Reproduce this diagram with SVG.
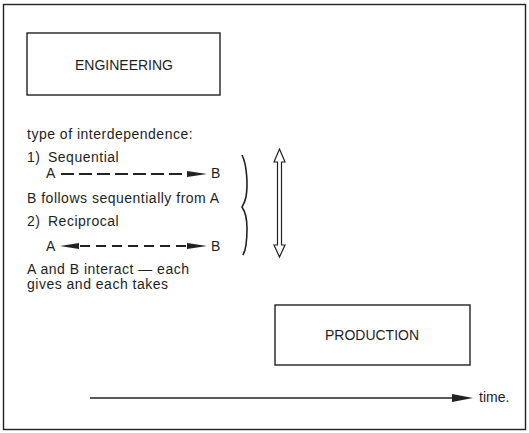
<svg xmlns="http://www.w3.org/2000/svg" width="529" height="433" viewBox="0 0 529 433">
<style>
text{font-family:"Liberation Sans",Arial,sans-serif;font-size:14px;fill:#1e1e1e}
.body{letter-spacing:0.5px}
.box{fill:none;stroke:#222;stroke-width:1.4}
.dash{stroke:#222;stroke-width:2.2;fill:none}
.head{fill:#222}
</style>
<rect x="3.5" y="4.5" width="522" height="425" fill="#fff" stroke="#222" stroke-width="1.4"/>
<g id="engineering">
<rect class="box" x="27" y="33" width="193" height="62"/>
<text x="124" y="70" text-anchor="middle">ENGINEERING</text>
</g>
<g id="production">
<rect class="box" x="275" y="305" width="195" height="60"/>
<text x="372" y="340" text-anchor="middle">PRODUCTION</text>
</g>
<g id="legend">
<text class="body" x="27" y="139">type of interdependence:</text>
<text class="body" x="27" y="162">1)</text>
<text class="body" x="48" y="162">Sequential</text>
<text class="body" x="46" y="178">A</text>
<text class="body" x="211" y="178">B</text>
<text class="body" x="27" y="203">B follows sequentially from A</text>
<text class="body" x="27" y="226">2)</text>
<text class="body" x="48" y="226">Reciprocal</text>
<text class="body" x="46" y="251">A</text>
<text class="body" x="211" y="251">B</text>
<text class="body" x="27" y="274">A and B interact — each</text>
<text class="body" x="27" y="289">gives and each takes</text>
</g>
<g id="brace">
<path d="M242,155 C247,165 248,185 246,197 C245,202 243,205 242,207 C244,210 247,216 247,228 C247,242 246,250 243,255" fill="none" stroke="#222" stroke-width="1.6"/>
</g>
<g id="mutual-arrow">
<polygon points="279.5,149 285,162 281.5,162 281.5,245 285,245 279.5,257 274,245 277.5,245 277.5,162 274,162" fill="#fff" stroke="#222" stroke-width="1.2"/>
</g>
<g id="connectors">
<line class="dash" x1="61" y1="174" x2="188" y2="174" stroke-dasharray="13 5"/>
<polygon class="head" points="187,171 207,174 187,177"/>
<line class="dash" x1="80" y1="246" x2="188" y2="246" stroke-dasharray="10 6"/>
<polygon class="head" points="60,246 79,243 79,249"/>
<polygon class="head" points="187,243 207,246 187,249"/>
<line x1="90" y1="398" x2="455" y2="398" stroke="#222" stroke-width="1.6"/>
<polygon class="head" points="452,394 473,398 452,402"/>
</g>
<text x="479" y="402">time.</text>
</svg>
